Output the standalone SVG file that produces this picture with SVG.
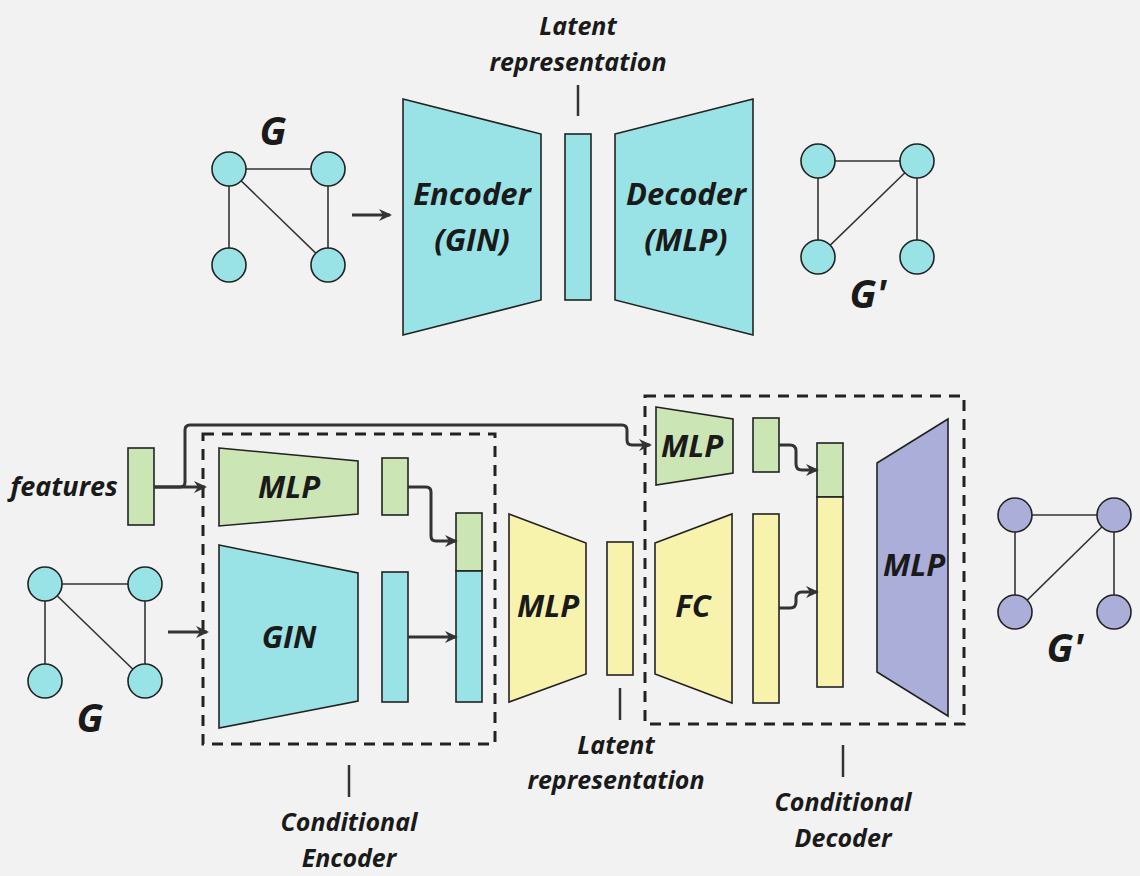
<svg xmlns="http://www.w3.org/2000/svg" width="1140" height="876" viewBox="0 0 1140 876">
<defs>
<marker id="ah" markerWidth="14" markerHeight="14" refX="11" refY="7" orient="auto" markerUnits="userSpaceOnUse">
<path d="M0,1 L13,7 L0,13 L4,7 z" fill="#333"/>
</marker>
<style>
.bg{fill:#f2f2f2}
.cy{fill:#99e3e6;stroke:#222;stroke-width:1.6}
.gr{fill:#cce5b5;stroke:#222;stroke-width:1.6}
.ye{fill:#f7f3ad;stroke:#222;stroke-width:1.6}
.pu{fill:#aaaed8;stroke:#222;stroke-width:1.6}
.edge{stroke:#333;stroke-width:1.6;fill:none}
.conn{stroke:#333;stroke-width:3;fill:none;marker-end:url(#ah)}
.tick{stroke:#333;stroke-width:2.5;fill:none}
.dash{fill:none;stroke:#222;stroke-width:3;stroke-dasharray:11,8}
text{font-family:"Open Sans","Liberation Sans",sans-serif;font-weight:700;font-style:italic;fill:#1a1a1a;text-anchor:middle}
.big{font-size:31px}
.lab{font-size:25px}
.gl{font-size:39px}
.m{font-size:31px}
</style>
</defs>
<rect class="bg" x="0" y="0" width="1140" height="876"/>

<g id="graph-G-top">
<line class="edge" x1="229" y1="169" x2="328" y2="169"/>
<line class="edge" x1="229" y1="169" x2="229" y2="265"/>
<line class="edge" x1="328" y1="169" x2="328" y2="265"/>
<line class="edge" x1="229" y1="169" x2="328" y2="265"/>
<ellipse class="cy" cx="229" cy="169" rx="17" ry="17"/>
<ellipse class="cy" cx="328" cy="169" rx="17" ry="17"/>
<ellipse class="cy" cx="229" cy="265" rx="17" ry="17"/>
<ellipse class="cy" cx="328" cy="265" rx="17" ry="17"/>
<text class="gl" x="273" y="145">G</text>
</g>

<g id="encoder-top">
<polygon class="cy" points="403,99 541,134 541,300 403,335"/>
<text class="big" x="472" y="205">Encoder</text>
<text class="big" x="472" y="251">(GIN)</text>
</g>

<g id="latent-top">
<rect class="cy" x="565" y="134" width="26" height="166"/>
<text class="lab" x="578" y="35">Latent</text>
<text class="lab" x="578" y="71">representation</text>
<line class="tick" x1="578" y1="85" x2="578" y2="116"/>
</g>

<g id="decoder-top">
<polygon class="cy" points="615,134 753,99 753,335 615,300"/>
<text class="big" x="686" y="205">Decoder</text>
<text class="big" x="686" y="251">(MLP)</text>
</g>

<g id="graph-Gp-top">
<line class="edge" x1="818" y1="161" x2="917" y2="161"/>
<line class="edge" x1="818" y1="161" x2="818" y2="257"/>
<line class="edge" x1="917" y1="161" x2="917" y2="257"/>
<line class="edge" x1="917" y1="161" x2="818" y2="257"/>
<ellipse class="cy" cx="818" cy="161" rx="17" ry="17"/>
<ellipse class="cy" cx="917" cy="161" rx="17" ry="17"/>
<ellipse class="cy" cx="818" cy="257" rx="17" ry="17"/>
<ellipse class="cy" cx="917" cy="257" rx="17" ry="17"/>
<text class="gl" x="868" y="308">G'</text>
</g>

<g id="features">
<rect class="gr" x="128" y="448" width="26" height="77"/>
<text x="64" y="496" style="font-size:27px">features</text>
</g>

<g id="graph-G-bottom">
<line class="edge" x1="45" y1="584" x2="145" y2="584"/>
<line class="edge" x1="45" y1="584" x2="45" y2="681"/>
<line class="edge" x1="145" y1="584" x2="145" y2="681"/>
<line class="edge" x1="45" y1="584" x2="145" y2="681"/>
<ellipse class="cy" cx="45" cy="584" rx="17" ry="17"/>
<ellipse class="cy" cx="145" cy="584" rx="17" ry="17"/>
<ellipse class="cy" cx="45" cy="681" rx="17" ry="17"/>
<ellipse class="cy" cx="145" cy="681" rx="17" ry="17"/>
<text class="gl" x="90" y="732">G</text>
</g>

<g id="cond-encoder">
<rect class="dash" x="203" y="434" width="292" height="310"/>
<line class="tick" x1="349" y1="765" x2="349" y2="797"/>
<text class="lab" x="349" y="831">Conditional</text>
<text class="lab" x="349" y="867">Encoder</text>
</g>

<g id="enc-mlp">
<polygon class="gr" points="219,448 358,461 358,514 219,526"/>
<text class="m" x="289" y="498">MLP</text>
</g>
<g id="enc-mlp-out"><rect class="gr" x="382" y="458" width="26" height="57"/></g>

<g id="gin">
<polygon class="cy" points="219,545 358,573 358,701 219,728"/>
<text class="m" x="289" y="648">GIN</text>
</g>
<g id="gin-out"><rect class="cy" x="382" y="572" width="26" height="130"/></g>

<g id="enc-concat">
<rect class="gr" x="456" y="513" width="26" height="58"/>
<rect class="cy" x="456" y="571" width="26" height="131"/>
</g>

<g id="mid-mlp">
<polygon class="ye" points="509,514 586,543 586,674 509,702"/>
<text class="m" x="548" y="617">MLP</text>
</g>

<g id="latent-bottom">
<rect class="ye" x="607" y="542" width="26" height="133"/>
<line class="tick" x1="620" y1="688" x2="620" y2="720"/>
<text class="lab" x="616" y="754">Latent</text>
<text class="lab" x="616" y="789">representation</text>
</g>

<g id="cond-decoder">
<rect class="dash" x="645" y="396" width="319" height="328"/>
<line class="tick" x1="843" y1="745" x2="843" y2="777"/>
<text class="lab" x="843" y="811">Conditional</text>
<text class="lab" x="843" y="847">Decoder</text>
</g>

<g id="dec-mlp">
<polygon class="gr" points="656,407 733,419 733,473 656,485"/>
<text class="m" x="692" y="457">MLP</text>
</g>
<g id="dec-mlp-out"><rect class="gr" x="753" y="418" width="26" height="54"/></g>

<g id="fc">
<polygon class="ye" points="655,543 732,514 732,703 655,674"/>
<text class="m" x="693" y="617">FC</text>
</g>
<g id="fc-out"><rect class="ye" x="753" y="514" width="26" height="189"/></g>

<g id="dec-concat">
<rect class="gr" x="817" y="443" width="26" height="54"/>
<rect class="ye" x="817" y="497" width="26" height="190"/>
</g>

<g id="final-mlp">
<polygon class="pu" points="877,463 948,419 948,716 877,672"/>
<text class="m" x="914" y="576">MLP</text>
</g>

<g id="graph-Gp-bottom">
<line class="edge" x1="1015" y1="515" x2="1114" y2="515"/>
<line class="edge" x1="1015" y1="515" x2="1015" y2="612"/>
<line class="edge" x1="1114" y1="515" x2="1114" y2="612"/>
<line class="edge" x1="1114" y1="515" x2="1015" y2="612"/>
<ellipse class="pu" cx="1015" cy="515" rx="17" ry="17"/>
<ellipse class="pu" cx="1114" cy="515" rx="17" ry="17"/>
<ellipse class="pu" cx="1015" cy="612" rx="17" ry="17"/>
<ellipse class="pu" cx="1114" cy="612" rx="17" ry="17"/>
<text class="gl" x="1065" y="662">G'</text>
</g>

<g id="connectors">
<path class="conn" d="M352,215 H390"/>
<path class="conn" d="M154,487 H205"/>
<path class="conn" d="M154,487 H180 Q185,487 185,482 V430 Q185,425 190,425 H622 Q627,425 627,430 V440 Q627,445 632,445 H650"/>
<path class="conn" d="M168,632 H207"/>
<path class="conn" d="M408,487 H426 Q431,487 431,492 V536 Q431,541 436,541 H456"/>
<path class="conn" d="M408,637 H456"/>
<path class="conn" d="M779,445 H790 Q796,445 796,451 V464 Q796,470 802,470 H817"/>
<path class="conn" d="M779,608 H790 Q796,608 796,602 V598 Q796,592 802,592 H817"/>
</g>
</svg>
